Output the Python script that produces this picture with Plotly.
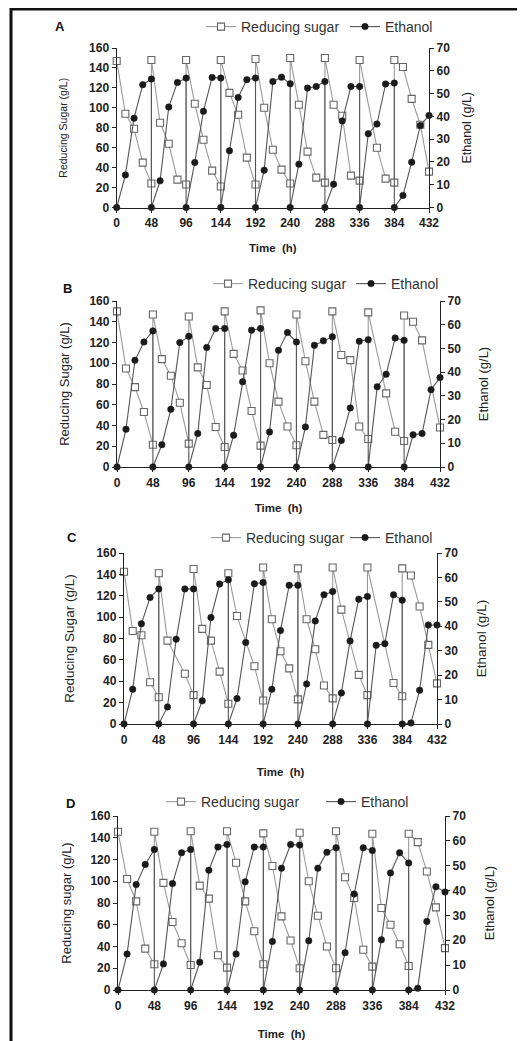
import plotly.graph_objects as go

# ---------------- data ----------------
time_h = [0, 12, 24, 36, 48,
          48, 60, 72, 84, 96,
          96, 108, 120, 132, 144,
          144, 156, 168, 180, 192,
          192, 204, 216, 228, 240,
          240, 252, 264, 276, 288,
          288, 300, 312, 324, 336,
          336, 348, 360, 372, 384,
          384, 396, 408, 420, 432]
time_ticks = [0, 48, 96, 144, 192, 240, 288, 336, 384, 432]
sugar_ticks = [0, 20, 40, 60, 80, 100, 120, 140, 160]
ethanol_ticks = [0, 10, 20, 30, 40, 50, 60, 70]

# None = point not visible in the source figure (hidden under an ethanol marker)
sugar_A = [147, 94, 79, 45, 24,
           148, 85, 64, 28, 23,
           148, 104, 68, 37, 21,
           148, 115, 93, 50, 23,
           149, 100, 58, 38, 24,
           150, 103, 56, 30, 25,
           150, 103, 92, 32, 27,
           148, None, 60, 29, 25,
           148, 141, 109, 83, 36]
ethanol_A = [0, 14.3, 39.2, 53.9, 56.4,
             0, 11.7, 44.1, 54.9, 56.8,
             0, 19.8, 42.2, 57.1, 56.8,
             0, 24.9, 48.3, 56.1, 56.8,
             0, 16.4, 55.3, 57.2, 54.3,
             0, 19.0, 52.4, 53.1, 55.3,
             0, 10.2, 38.0, 53.1, 53.1,
             0, 32.4, 36.6, 54.2, 54.6,
             0, 5.3, 19.9, 36.0, 40.4]

sugar_B = [150, 95, 77, 53, 21.5,
           147, 104, 88, 62, 22.5,
           145, 96, 79, 38.6, 19.3,
           150, 109, 93, 54, 20.6,
           151, 100, 63, 39, 21,
           147, 102, 63, 31, 26,
           150, 108, 103, 39, 27,
           149, None, 71, 34, 25,
           146, 140, 122, None, 38]
ethanol_B = [0, 15.9, 45.0, 52.7, 57.4,
             0, 9.4, 24.3, 52.5, 55.1,
             0, 14.1, 50.4, 58.4, 58.4,
             0, 13.4, 35.9, 57.7, 58.4,
             0, 14.8, 49.2, 56.7, 52.7,
             0, 16.9, 51.3, 53.2, 54.9,
             0, 11.2, 24.9, 53.0, 53.7,
             0, 33.8, 39.1, 54.4, 53.4,
             0, 13.6, 14.1, 32.6, 37.7]

sugar_C = [142.5, 87, 83, 39, 25,
           141, 78, None, 47, 27,
           145, 89, 78, 49, 19,
           141, 101, None, 54, 22,
           146.5, 98, 68, 52, 23,
           145.6, 98, 70, 36, 24,
           146.5, 107, None, 46, 27,
           146.5, None, None, 38.4, 26,
           145.6, 139, 110, 74, 38]
ethanol_C = [0, 14.2, 41.0, 51.8, 55.3,
             0, 7.0, 34.7, 55.3, 55.3,
             0, 9.5, 43.6, 57.3, 59.0,
             0, 10.4, 33.4, 57.4, 57.9,
             0, 14.2, 38.3, 56.8, 56.8,
             0, 16.4, 42.2, 52.9, 54.2,
             0, 12.7, 34.0, 51.1, 52.2,
             0, 32.2, 32.9, 52.9, 50.7,
             0, 0.4, 13.8, 40.5, 40.5]

sugar_D = [145.5, 102, 81.5, 38, 23.7,
           145.5, 98.5, 62.5, 43, 23,
           146, 96, 84, 32, 20.6,
           146, 117, 81.5, 54, 23.7,
           144, 114, 67.7, 45.5, 20,
           144.6, 100, 68.3, 40, 20,
           146, 103.7, 84.6, 37, 21.5,
           143.7, 75.4, 60, 42, 22,
           143.7, 136, 109, 76, 38.5]
ethanol_D = [0, 14.5, 42.4, 50.5, 56.5,
             0, 10.5, 42.8, 55.2, 56.5,
             0, 11.2, 48.2, 57.5, 58.5,
             0, 14.5, 43.5, 57.5, 57.5,
             0, 19.5, 49.0, 58.5, 58.3,
             0, 19.8, 49.0, 55.4, 57.2,
             0, 15.0, 38.6, 57.2, 56.1,
             0, 20.2, 47.1, 55.2, 51.1,
             0, 0.7, 27.6, 41.5, 39.4]

panel_letters = ["A", "B", "C", "D"]
sugar_titles = ["Reducing Sugar (g/L)", "Reducing Sugar (g/L)",
                "Reducing Sugar (g/L)", "Reducing sugar (g/L)"]
ethanol_title = "Ethanol (g/L)"
time_title = "Time  (h)"
sugar_name = "Reducing sugar"
ethanol_name = "Ethanol"

sugar_series = [sugar_A, sugar_B, sugar_C, sugar_D]
ethanol_series = [ethanol_A, ethanol_B, ethanol_C, ethanol_D]

# ---------------- layout geometry (page pixels) ----------------
# the page body has an 8 px default margin, so the figure is 8 px smaller
# and page coordinates are shifted by 8 px when converted to paper fractions
OFF = 8
W, H = 525 - OFF, 1041 - OFF
FONT = "Liberation Sans, Arial, sans-serif"
TXT = "#222222"

panels = [
    dict(x0=116.7, x1=429, yt=48, yb=207.5, leg_x=201, leg_y=27, ew=99,
         let=(60, 27), ys=10.5, es=12.5, ysd=19, esd=13, xsd=14),
    dict(x0=117, x1=440, yt=301, yb=467, leg_x=208, leg_y=284, ew=98,
         let=(67, 289), ys=13, es=13, ysd=16, esd=18, xsd=15),
    dict(x0=124, x1=437, yt=553, yb=724, leg_x=206, leg_y=538, ew=94,
         let=(72, 537), ys=13.5, es=13.5, ysd=18, esd=19, xsd=22),
    dict(x0=118, x1=445, yt=816, yb=990, leg_x=161, leg_y=802, ew=115,
         let=(70, 803), ys=13, es=13, ysd=15, esd=19, xsd=18),
]


def fx(px):
    return (px - OFF) / W


def fy(px):
    return 1 - (px - OFF) / H


fig = go.Figure()
layout = dict(
    width=W, height=H,
    margin=dict(l=0, r=0, t=0, b=0, autoexpand=False),
    paper_bgcolor="white", plot_bgcolor="rgba(0,0,0,0)",
    font=dict(family=FONT, color=TXT),
    showlegend=True,
    annotations=[], shapes=[],
)

tickfont = dict(family=FONT, size=12, color=TXT, weight="bold")

for i, p in enumerate(panels):
    n = i + 1
    xa = "x" if n == 1 else f"x{n}"
    yl_n = 2 * i + 1
    yr_n = 2 * i + 2
    yl = "y" if yl_n == 1 else f"y{yl_n}"
    yr = f"y{yr_n}"
    leg = "legend" if n == 1 else f"legend{n}"

    fig.add_trace(go.Scatter(
        x=time_h, y=sugar_series[i], name=sugar_name, mode="lines+markers",
        xaxis=xa, yaxis=yl, legend=leg, cliponaxis=False, connectgaps=True,
        line=dict(color="#9a9a9a", width=1.1),
        marker=dict(symbol="square", size=7, color="white",
                    line=dict(color="#666666", width=1.1)),
    ))
    fig.add_trace(go.Scatter(
        x=time_h, y=ethanol_series[i], name=ethanol_name, mode="lines+markers",
        xaxis=xa, yaxis=yr, legend=leg, cliponaxis=False,
        line=dict(color="#555555", width=1.1),
        marker=dict(symbol="circle", size=6.5, color="#1a1a1a",
                    line=dict(color="#1a1a1a", width=0.5)),
    ))

    xkey = "xaxis" if n == 1 else f"xaxis{n}"
    ylkey = "yaxis" if yl_n == 1 else f"yaxis{yl_n}"
    yrkey = f"yaxis{yr_n}"

    layout[xkey] = dict(
        domain=[fx(p["x0"]), fx(p["x1"])], anchor=yl, range=[0, 432],
        tickmode="array", tickvals=time_ticks, ticktext=[str(v) for v in time_ticks],
        showline=True, linecolor="#222", linewidth=1.3, mirror=False, automargin=False,
        ticks="outside", ticklen=4, tickcolor="#222", showgrid=False, zeroline=False,
        tickfont=tickfont,
        title=dict(text=time_title, standoff=p["xsd"],
                   font=dict(family=FONT, size=11.5, color=TXT, weight="bold")),
    )
    layout[ylkey] = dict(
        domain=[fy(p["yb"]), fy(p["yt"])], anchor=xa, range=[0, 160],
        tickmode="array", tickvals=sugar_ticks, automargin=False,
        showline=True, linecolor="#222", linewidth=1.3,
        ticks="outside", ticklen=4, tickcolor="#222", showgrid=False, zeroline=False,
        tickfont=tickfont,
        title=dict(text=sugar_titles[i], standoff=p["ysd"],
                   font=dict(family=FONT, size=p["ys"], color=TXT)),
    )
    layout[yrkey] = dict(
        domain=[fy(p["yb"]), fy(p["yt"])], anchor=xa, overlaying=yl, side="right",
        range=[0, 70], tickmode="array", tickvals=ethanol_ticks, automargin=False,
        showline=True, linecolor="#222", linewidth=1.3,
        ticks="outside", ticklen=4, tickcolor="#222", showgrid=False, zeroline=False,
        tickfont=tickfont,
        title=dict(text=ethanol_title, standoff=p["esd"],
                   font=dict(family=FONT, size=p["es"], color=TXT)),
    )
    layout[leg] = dict(
        orientation="h", x=fx(p["leg_x"]), xanchor="left",
        y=fy(p["leg_y"]), yanchor="middle",
        bgcolor="rgba(0,0,0,0)", borderwidth=0,
        font=dict(family=FONT, size=14, color="#333"),
        itemwidth=30, entrywidth=p["ew"],
    )
    layout["annotations"].append(dict(
        text=panel_letters[i], x=fx(p["let"][0]), y=fy(p["let"][1]),
        xref="paper", yref="paper", showarrow=False,
        xanchor="center", yanchor="middle",
        font=dict(family=FONT, size=13, color="#111", weight="bold"),
    ))

# outer frame
layout["shapes"].append(dict(
    type="rect", xref="paper", yref="paper",
    x0=fx(11), x1=fx(520), y0=-0.02, y1=fy(9),
    line=dict(color="#111", width=3), fillcolor="rgba(0,0,0,0)", layer="above",
))

fig.update_layout(**layout)
fig.write_html("out.html")
